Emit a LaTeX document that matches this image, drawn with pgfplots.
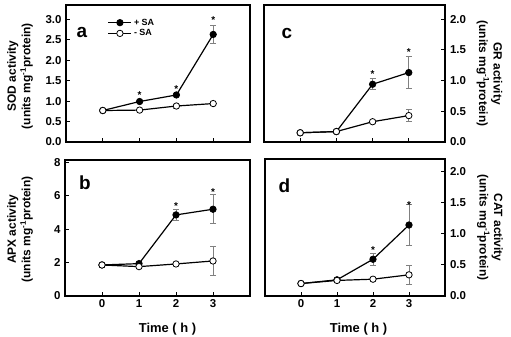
\documentclass[border=0pt]{standalone}
\usepackage{fontspec}
\setmainfont{Liberation Sans}
\usepackage{pgfplots}
\pgfplotsset{compat=1.18}

\tikzset{letter/.style={anchor=base, font=\bfseries\fontsize{19}{22}\selectfont}}
\pgfplotsset{
  panel/.style={
    scale only axis, xmin=-1, xmax=4, ymin=0,
    xtick={0,1,2,3}, tick align=inside, xtick pos=left,
    axis line style={line width=1.5bp},
    major tick length=4bp, tick style={line width=1bp, black},
    /pgf/number format/assume math mode=true,
    tick label style={font=\bfseries\fontsize{11.5}{13}\selectfont},
    label style={font=\bfseries\fontsize{12}{14.5}\selectfont, align=center},
    clip=false,
  },
  leftpanel/.style={ytick pos=left, yticklabel style={xshift=-1bp}},
  rightpanel/.style={ytick pos=right, yticklabel pos=right, yticklabel style={xshift=1.5bp}},
  dec1/.style={yticklabel style={/pgf/number format/.cd, fixed, fixed zerofill, precision=1}},
  plusSA/.style={black, line width=1.2bp, mark=*, mark size=3.2bp, mark options={fill=black, draw=black, line width=0.8bp},
    error bars/.cd, y dir=both, y explicit,
    error bar style={gray, line width=0.7bp, solid},
    error mark options={rotate=90, mark size=3bp, gray, line width=0.7bp}},
  minusSA/.style={black, line width=1.2bp, mark=*, mark size=3.2bp, mark options={fill=white, draw=black, line width=0.8bp},
    error bars/.cd, y dir=both, y explicit,
    error bar style={gray, line width=0.7bp, solid},
    error mark options={rotate=90, mark size=3bp, gray, line width=0.7bp}},
  stars/.style={draw=none, mark=none, nodes near coords={*},
    every node near coord/.style={anchor=south, inner sep=0pt, font=\bfseries\fontsize{10}{12}\selectfont}},
}

\begin{document}
\begin{tikzpicture}
\useasboundingbox (0bp,0bp) rectangle (511bp,337bp);

% ---- panel a: SOD
\begin{axis}[panel, leftpanel, dec1, at={(66bp,195bp)}, anchor=south west,
  width=184bp, height=137bp, ymax=3.35, ytick={0,0.5,...,3.0}, xticklabels={},
  ylabel={SOD activity\\(units mg\textsuperscript{-1}protein)},
  ylabel style={at={(axis description cs:-0.25,0.48)}, anchor=center},
  legend style={at={(axis description cs:0.21,0.93)}, anchor=north west, draw=none, fill=none,
    font=\bfseries\fontsize{9}{11}\selectfont, row sep=-1bp, cells={anchor=west}},
  legend image code/.code={\draw[mark repeat=2,mark phase=2] plot coordinates {(0bp,0bp) (11.5bp,0bp) (23bp,0bp)};}]
\addplot[plusSA] table[x=x,y=y,y error=e] {
x y e
0 0.77 0.02
1 0.99 0.03
2 1.15 0.03
3 2.63 0.22
};
\addlegendentry{+ SA}
\addplot[minusSA] table[x=x,y=y,y error=e] {
x y e
0 0.77 0.02
1 0.78 0.03
2 0.88 0.05
3 0.94 0.05
};
\addlegendentry{- SA}
\addplot[stars, forget plot] coordinates {(1,1.06) (2,1.21) (3,2.90)};
\node[letter] at (axis description cs:0.087,0.766) {a};
\end{axis}

% ---- panel b: APX
\begin{axis}[panel, leftpanel, at={(65bp,41bp)}, anchor=south west,
  width=185bp, height=136bp, ymax=8.15, ytick={0,2,4,6,8},
  ylabel={APX activity\\(units mg\textsuperscript{-1}protein)},
  ylabel style={at={(axis description cs:-0.243,0.49)}, anchor=center},
  xlabel={Time ( h )},
  xlabel style={at={(axis description cs:0.554,-0.243)}, anchor=center, font=\bfseries\fontsize{13}{15}\selectfont}]
\addplot[plusSA] table[x=x,y=y,y error=e] {
x y e
0 1.86 0.05
1 1.94 0.08
2 4.86 0.35
3 5.20 0.87
};
\addplot[minusSA] table[x=x,y=y,y error=e] {
x y e
0 1.86 0.05
1 1.76 0.08
2 1.92 0.10
3 2.10 0.87
};
\addplot[stars] coordinates {(2,5.16) (3,6.04)};
\node[letter] at (axis description cs:0.108,0.78) {b};
\end{axis}

% ---- panel c: GR
\begin{axis}[panel, rightpanel, dec1, at={(264bp,195bp)}, anchor=south west,
  width=181bp, height=137bp, ymax=2.23, ytick={0,0.5,...,2.0}, xticklabels={},
  ylabel={GR activity\\(units mg\textsuperscript{-1}protein)},
  ylabel style={at={(axis description cs:1.246,0.5)}, anchor=center, rotate=180}]
\addplot[plusSA] table[x=x,y=y,y error=e] {
x y e
0 0.15 0.01
1 0.17 0.01
2 0.94 0.09
3 1.13 0.26
};
\addplot[minusSA] table[x=x,y=y,y error=e] {
x y e
0 0.15 0.01
1 0.17 0.01
2 0.33 0.02
3 0.43 0.10
};
\addplot[stars] coordinates {(2,1.04) (3,1.40)};
\node[letter] at (axis description cs:0.127,0.759) {c};
\end{axis}

% ---- panel d: CAT
\begin{axis}[panel, rightpanel, dec1, at={(265bp,41bp)}, anchor=south west,
  width=180bp, height=137bp, ymax=2.2, ytick={0,0.5,...,2.0},
  ylabel={CAT activity\\(units mg\textsuperscript{-1}protein)},
  ylabel style={at={(axis description cs:1.25,0.5)}, anchor=center, rotate=180},
  xlabel={Time ( h )},
  xlabel style={at={(axis description cs:0.52,-0.241)}, anchor=center, font=\bfseries\fontsize{13}{15}\selectfont}]
\addplot[plusSA] table[x=x,y=y,y error=e] {
x y e
0 0.20 0.01
1 0.26 0.02
2 0.59 0.09
3 1.14 0.33
};
\addplot[minusSA] table[x=x,y=y,y error=e] {
x y e
0 0.20 0.01
1 0.25 0.02
2 0.27 0.02
3 0.34 0.16
};
\addplot[stars] coordinates {(2,0.68) (3,1.40)};
\node[letter] at (axis description cs:0.108,0.759) {d};
\end{axis}
\end{tikzpicture}
\end{document}
